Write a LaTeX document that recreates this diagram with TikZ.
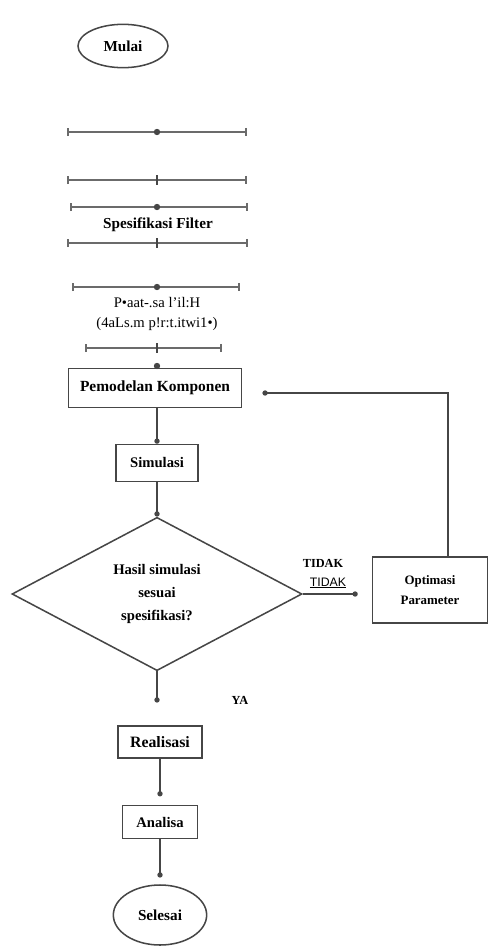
\documentclass[tikz,border=0pt]{standalone}
\usepackage{fontspec}
\setmainfont{Liberation Serif}
\newfontfamily\labelsans{Liberation Sans}
\usetikzlibrary{positioning}
\usetikzlibrary{shapes.geometric}
\usetikzlibrary{arrows.meta}
\definecolor{mygrayline}{RGB}{70, 70, 70}

\begin{document}
\begin{tikzpicture}[
            x=0.03cm, y=-0.03cm,
            line width=1.1pt,
            terminal/.style={
                ellipse,
                draw=mygrayline,
                line width=1.3pt,
                inner sep=0pt,
                font=\fontsize{13}{15}\selectfont\bfseries
            },
            box/.style={
                rectangle,
                draw=mygrayline,
                line width=1.3pt,
                inner sep=0pt,
                align=center,
                font=\fontsize{12.5}{14}\selectfont\bfseries
            },
            decision/.style={
                diamond,
                draw=mygrayline,
                line width=1.3pt,
                inner sep=0pt,
                align=center,
                font=\fontsize{12.5}{20}\selectfont\bfseries
            },
            rail/.style={
                draw=mygrayline!80,
                line width=1.6pt,
                {Bar[width=7pt]}-{Bar[width=7pt]}
            },
            flow/.style={draw=mygrayline, -{Circle[length=4.5pt]}},
            lbl/.style={font=\fontsize{10.5}{12}\selectfont\bfseries}
        ]
            \useasboundingbox (0,0) rectangle (488,952);

            % Nodes
            \node[terminal, minimum width=2.7cm, minimum height=1.3cm] (mulai) at (123,46) {Mulai};

            \node[box, draw=none, font=\fontsize{13}{15}\selectfont\bfseries] (spesifikasi) at (158,225) {Spesifikasi Filter};

            \node[draw=none, align=center, font=\fontsize{12.5}{17}\selectfont] (perancangan) at (157,314)
                {P\textbullet aat-.sa l'il:H\\(4aLs.m p!r:t.itwi1\textbullet)};

            \node[box, minimum width=5.2cm, minimum height=1.17cm, font=\fontsize{13.2}{15}\selectfont\bfseries] (pemodelan) at (155,388) {Pemodelan Komponen};

            \node[box, minimum width=2.46cm, minimum height=1.11cm] (simulasi) at (157,463) {Simulasi};

            \node[decision, minimum width=8.7cm, minimum height=4.6cm] (hasil) at (157,594)
                {Hasil simulasi\\sesuai\\spesifikasi?};

            \node[box, minimum width=3.45cm, minimum height=1.98cm, font=\fontsize{11}{17}\selectfont\bfseries] (optimasi) at (430,590)
                {Optimasi\\Parameter};

            \node[box, minimum width=2.52cm, minimum height=0.96cm, font=\fontsize{13.5}{15}\selectfont\bfseries] (realisasi) at (160,742) {Realisasi};

            \node[box, minimum width=2.25cm, minimum height=0.99cm] (analisa) at (160,822) {Analisa};

            \node[terminal, minimum width=2.8cm, minimum height=1.8cm] (selesai) at (160,915) {Selesai};

            % Labels
            \node[lbl] (tidak) at (323,563) {TIDAK};
            \node[font=\labelsans\fontsize{10.5}{12}\selectfont] (tidakb) at (328,583) {\underline{TIDAK}};
            \node[lbl] (ya) at (240,700) {YA};

            % Rails
            \draw[rail] (67,132) -- (247,132);
            \draw[rail] (67,180) -- (247,180);
            \draw[rail] (70,207) -- (248,207);
            \draw[rail] (67,243) -- (248,243);
            \draw[rail] (72,287) -- (240,287);
            \draw[rail] (85,348) -- (222,348);
            \foreach \y in {132,207,287,366}
                \fill[mygrayline] (157,\y) circle (3.2);
            \foreach \y in {180,243,348}
                \draw[mygrayline, line width=1.2pt] (157,\y-5) -- (157,\y+5);

            % Arrows
            \draw[flow] (pemodelan.south -| simulasi) -- (simulasi.north);
            \draw[flow] (simulasi) -- (hasil.north);
            \draw[flow, shorten >=0.68cm] (hasil.south) -- (hasil.south |- realisasi.north);
            \draw[flow, shorten >=0.25cm] (realisasi) -- (analisa.north);
            \draw[flow, shorten >=0.2cm] (analisa) -- (selesai.north);
            \draw[flow, shorten >=0.42cm] (hasil.east) -- (hasil.east -| optimasi.west);
            \draw[flow, shorten >=0.6cm] ([xshift=0.54cm]optimasi.north) |- ([yshift=-0.15cm]pemodelan.east);
        \end{tikzpicture}
\end{document}
